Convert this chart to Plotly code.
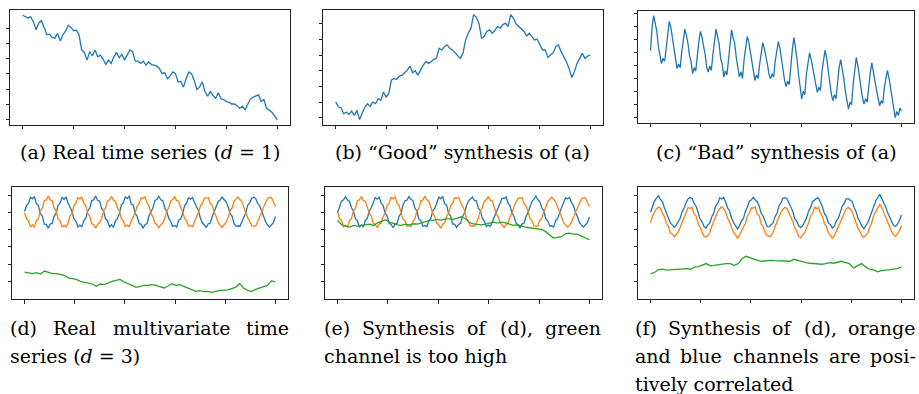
import numpy as np
import plotly.graph_objects as go

W, H = 919, 394

# ---------------- data (arbitrary units) ----------------
real_a = [6.87, 6.78, 6.69, 6.76, 6.42, 5.91, 6.36, 6.51, 6.07, 5.58, 5.62, 5.40, 5.36, 5.67, 5.18, 5.58,
          5.84, 6.20, 6.07, 5.84, 5.89, 5.58, 4.58, 4.42, 3.91, 4.47, 4.20, 4.58, 4.13, 4.24, 3.98, 3.62,
          3.91, 3.69, 4.13, 4.42, 4.07, 4.29, 3.91, 4.24, 4.58, 4.47, 3.84, 3.84, 3.69, 3.84, 3.58, 3.80,
          3.62, 3.58, 3.53, 3.36, 3.02, 3.09, 2.69, 2.87, 3.13, 3.02, 2.47, 2.51, 2.13, 2.69, 3.13, 3.02,
          2.58, 1.98, 2.13, 2.47, 1.84, 1.53, 1.84, 1.58, 1.40, 1.76, 1.36, 1.31, 1.18, 1.13, 1.02, 1.02,
          0.91, 0.73, 0.87, 0.64, 1.02, 1.36, 1.47, 1.53, 1.62, 1.18, 1.31, 0.73, 0.58, 0.47, 0.24, -0.02]

good_b = [47, 32, 30, 12, 17, 10, 20, 7, 22, -5, 14, 32, 42, 34, 47, 42, 57, 52, 77, 62, 72, 112, 117, 114,
          124, 127, 134, 142, 154, 134, 140, 127, 142, 157, 167, 162, 167, 174, 177, 207, 202, 212, 217, 207,
          202, 194, 187, 177, 192, 232, 252, 267, 307, 300, 282, 237, 242, 257, 262, 252, 260, 272, 267, 277,
          282, 272, 307, 297, 280, 272, 267, 257, 244, 252, 242, 232, 234, 217, 202, 202, 180, 187, 194, 212,
          217, 197, 184, 167, 147, 120, 137, 162, 177, 192, 177, 184, 187]

bad_c = [200, 270,
         304, 282, 258, 214, 190, 162, 178, 168, 205, 248,
         287, 270, 236, 218, 172, 147, 160, 150, 196, 232,
         264, 246, 222, 186, 168, 132, 150, 140, 190, 228,
         257, 240, 214, 190, 152, 137, 155, 142, 188, 236,
         264, 242, 220, 176, 160, 122, 140, 128, 180, 228,
         262, 238, 222, 180, 150, 122, 138, 118, 172, 214,
         242, 226, 198, 172, 140, 112, 128, 118, 160, 200,
         224, 206, 186, 160, 130, 117, 132, 122, 170, 206,
         227, 208, 170, 150, 112, 94, 110, 100, 158, 204,
         240, 210, 176, 128, 90, 57, 80, 70, 130, 170,
         194, 176, 150, 120, 96, 77, 92, 82, 140, 180,
         202, 178, 140, 110, 72, 52, 70, 58, 110, 150,
         174, 150, 118, 80, 50, 27, 48, 40, 100, 150,
         180, 156, 120, 92, 60, 42, 58, 48, 96, 136,
         164, 142, 110, 84, 54, 37, 52, 44, 90, 122,
         142, 120, 88, 60, 30, 2, 20, 8, 30, 22]

d_blue = [210, 228, 234, 253, 248, 255, 233, 228, 203, 196, 172, 171, 160, 172, 174, 196,
          205, 229, 235, 252, 246, 254, 236, 221, 211, 188, 181, 163, 169, 164, 182, 189,
          212, 220, 242, 245, 256, 243, 241, 219, 212, 187, 183, 164, 170, 162, 181, 188,
          204, 230, 236, 254, 249, 257, 232, 229, 205, 195, 173, 172, 160, 171, 173, 197,
          211, 221, 243, 246, 255, 245, 242, 220, 210, 189, 180, 165, 168, 163, 184, 187,
          203, 227, 235, 251, 247, 252, 237, 222, 213, 190, 176, 170, 161, 173, 175, 194,
          209, 226, 240, 244, 254, 246, 239, 225, 204, 197, 174, 166, 167, 165, 180, 190,
          206, 229, 236, 250, 253, 249, 234, 227, 209, 191, 179, 169, 163, 170, 177, 195]
d_orange = [206, 190, 182, 163, 170, 162, 183, 188, 213, 219, 243, 244, 256, 245, 242, 220,
            211, 187, 181, 164, 168, 163, 174, 196, 204, 228, 235, 252, 247, 253, 234, 227,
            203, 196, 173, 171, 160, 172, 176, 189, 211, 221, 241, 245, 255, 244, 240, 221,
            212, 188, 182, 165, 169, 165, 181, 194, 205, 227, 233, 251, 249, 254, 236, 226,
            204, 194, 175, 170, 161, 171, 175, 190, 210, 222, 242, 246, 254, 243, 241, 222,
            210, 189, 183, 166, 167, 164, 182, 193, 206, 226, 234, 250, 250, 252, 235, 228,
            207, 195, 176, 169, 162, 170, 177, 191, 212, 220, 240, 247, 253, 246, 239, 223,
            205, 190, 180, 167, 166, 166, 179, 195, 208, 225, 237, 249, 252, 251, 237, 225]
d_green = [28, 26, 23, 26, 22, 31, 26, 23, 23, 20, 18, 10, 8, 6, 0, -2, -4, -8, -15, -8, -10, -4, 0, 3,
           6, -2, -6, -12, -18, -14, -12, -12, -10, -12, -17, -20, -14, -7, -12, -10, -15, -20, -26, -30,
           -28, -31, -30, -33, -30, -27, -27, -26, -22, -18, -7, -20, -27, -31, -24, -20, -16, -12, 2, -2]

e_blue = [207, 227, 241, 245, 254, 244, 240, 221, 211, 188, 182, 163, 170, 163, 183, 189,
          212, 221, 235, 252, 247, 253, 234, 228, 204, 196, 174, 171, 161, 172, 174, 196,
          204, 229, 242, 244, 255, 246, 243, 219, 212, 187, 183, 165, 168, 164, 181, 188,
          211, 220, 234, 253, 248, 255, 233, 229, 203, 197, 172, 172, 162, 171, 175, 195,
          205, 228, 241, 246, 253, 243, 242, 220, 213, 189, 181, 164, 169, 165, 180, 190,
          210, 222, 236, 250, 249, 254, 235, 226, 205, 195, 175, 170, 160, 173, 174, 194,
          206, 227, 240, 247, 256, 245, 239, 221, 212, 188, 182, 166, 167, 163, 183, 189,
          209, 223, 237, 251, 248, 252, 236, 227, 206, 194, 176, 169, 163, 170, 176, 193]
e_orange = [211, 188, 183, 164, 169, 163, 182, 189, 212, 220, 242, 245, 255, 243, 241, 221,
            204, 196, 174, 171, 161, 172, 175, 195, 205, 228, 234, 252, 248, 254, 235, 228,
            210, 187, 182, 165, 168, 164, 181, 188, 211, 219, 243, 244, 256, 245, 240, 220,
            205, 195, 175, 170, 160, 171, 176, 196, 204, 227, 235, 251, 249, 253, 236, 227,
            212, 189, 181, 166, 167, 165, 180, 190, 213, 221, 241, 246, 254, 244, 242, 222,
            203, 194, 176, 169, 162, 170, 177, 194, 206, 226, 236, 250, 250, 252, 234, 226,
            211, 188, 182, 167, 166, 166, 183, 189, 210, 222, 240, 247, 253, 246, 239, 223,
            206, 193, 177, 168, 163, 169, 178, 193, 207, 225, 237, 249, 251, 251, 237, 225]
e_green = [183, 170, 166, 163, 168, 166, 168, 170, 172, 168, 176, 180, 185, 178, 173, 170, 168, 172, 170, 173,
           172, 176, 178, 183, 183, 186, 184, 188, 188, 186, 190, 194, 188, 176, 173, 172, 170, 172, 176, 178,
           175, 178, 176, 172, 168, 170, 166, 163, 161, 160, 158, 156, 150, 140, 130, 132, 134, 143, 145, 142,
           142, 136, 131, 125]

f_blue = [208, 226, 242, 251, 258, 247, 240, 222, 206, 194, 176, 170, 163, 169, 180, 190,
          210, 221, 237, 249, 252, 250, 236, 227, 209, 189, 180, 166, 160, 170, 175, 195,
          205, 228, 234, 252, 248, 253, 239, 221, 212, 190, 177, 168, 158, 167, 182, 189,
          211, 223, 241, 245, 253, 246, 240, 226, 205, 196, 179, 165, 164, 171, 176, 194,
          206, 227, 236, 250, 252, 249, 235, 222, 211, 188, 181, 167, 162, 168, 179, 191,
          212, 222, 240, 246, 250, 251, 237, 225, 204, 195, 175, 171, 160, 166, 181, 190,
          207, 226, 235, 248, 249, 245, 241, 223, 210, 191, 178, 166, 158, 169, 177, 193,
          209, 230, 243, 252, 262, 250, 239, 224, 207, 192, 180, 168, 165, 172, 184, 200]
f_orange = [176, 198, 208, 219, 224, 221, 206, 195, 174, 166, 146, 142, 134, 140, 148, 163,
            177, 194, 206, 222, 220, 223, 204, 198, 176, 160, 150, 136, 133, 137, 146, 165,
            180, 192, 210, 218, 225, 219, 209, 190, 179, 162, 148, 140, 129, 139, 150, 160,
            175, 197, 205, 221, 221, 224, 203, 197, 173, 166, 145, 138, 135, 136, 147, 164,
            181, 193, 209, 217, 223, 220, 208, 191, 180, 161, 151, 135, 131, 141, 145, 162,
            176, 198, 204, 223, 219, 222, 205, 196, 174, 165, 146, 139, 130, 137, 151, 161,
            179, 191, 207, 218, 222, 218, 210, 192, 178, 160, 149, 137, 132, 140, 146, 163,
            177, 199, 211, 221, 232, 223, 207, 195, 176, 164, 150, 140, 136, 142, 152, 168]
f_green = [23, 26, 35, 36, 33, 34, 34, 36, 35, 38, 36, 42, 44, 48, 53, 46, 48, 50, 50, 53, 53, 48, 53, 68,
           75, 70, 66, 62, 60, 62, 63, 62, 62, 60, 60, 60, 66, 62, 58, 56, 54, 53, 50, 51, 53, 56, 54, 58,
           60, 56, 52, 40, 46, 53, 43, 36, 34, 28, 32, 33, 36, 35, 38, 43]

x_ticks = [0, 200, 400, 600, 800, 1000]
T_END = 1000

BLUE, ORANGE, GREEN = "#1f77b4", "#ff7f0e", "#2ca02c"

# ---------------- layout geometry (pixels) ----------------
panels = [
    dict(series=[(real_a, BLUE)], xd=(10, 290), yd=(10, 125),
         yt=[0, 1, 2, 3, 4, 5, 6], yr=None),
    dict(series=[(good_b, BLUE)], xd=(323, 603), yd=(9.5, 124.7),
         yt=[46.7 * k for k in range(7)], yr=None),
    dict(series=[(bad_c, BLUE)], xd=(638, 914), yd=(10.5, 122.7),
         yt=[2 + 38.5 * k for k in range(9)], yr=None),
    dict(series=[(d_blue, BLUE), (d_orange, ORANGE), (d_green, GREEN)], xd=(12, 288), yd=(186.5, 299.3),
         yt=[51.6 * k for k in range(6)], yr=[-54, 285]),
    dict(series=[(e_blue, BLUE), (e_orange, ORANGE), (e_green, GREEN)], xd=(325, 602), yd=(186.5, 299.3),
         yt=[51.6 * k for k in range(6)], yr=[-54, 285]),
    dict(series=[(f_blue, BLUE), (f_orange, ORANGE), (f_green, GREEN)], xd=(638, 914), yd=(186.8, 299),
         yt=[51.6 * k for k in range(6)], yr=[-54, 285]),
]

fig = go.Figure()
layout = {}
for i, p in enumerate(panels, start=1):
    xa = "x" if i == 1 else f"x{i}"
    ya = "y" if i == 1 else f"y{i}"
    allv = []
    for vals, col in p["series"]:
        xs = np.linspace(0, T_END, len(vals))
        fig.add_trace(go.Scatter(x=xs, y=vals, mode="lines", xaxis=xa, yaxis=ya,
                                 line=dict(color=col, width=1.3), showlegend=False,
                                 hoverinfo="skip"))
        allv += list(vals)
    if p["yr"] is None:
        lo, hi = min(allv), max(allv)
        pad = 0.05 * (hi - lo)
        yr = [lo - pad, hi + pad]
    else:
        yr = p["yr"]
    common = dict(showline=True, mirror=True, linecolor="#222222", linewidth=0.9,
                  ticks="outside", ticklen=3.5, tickwidth=0.8, tickcolor="#222222",
                  showticklabels=False, showgrid=False, zeroline=False, fixedrange=True)
    layout["xaxis" if i == 1 else f"xaxis{i}"] = dict(
        domain=[p["xd"][0] / W, p["xd"][1] / W], anchor=ya,
        range=[-0.05 * T_END, 1.05 * T_END], tickmode="array", tickvals=x_ticks, **common)
    layout["yaxis" if i == 1 else f"yaxis{i}"] = dict(
        domain=[1 - p["yd"][1] / H, 1 - p["yd"][0] / H], anchor=xa,
        range=yr, tickmode="array", tickvals=p["yt"], **common)

fig.update_layout(width=W, height=H, margin=dict(l=0, r=0, t=0, b=0),
                  paper_bgcolor="white", plot_bgcolor="white", **layout)

FONT = dict(family="'DejaVu Serif', 'Liberation Serif', serif", size=19, color="black")


def txt(s, x, y, anchor="left"):
    fig.add_annotation(text=s, x=x / W, y=1 - y / H, xref="paper", yref="paper",
                       xanchor=anchor, yanchor="middle", showarrow=False, font=FONT,
                       borderpad=0)


TOP_Y = 152
txt("(a) Real time series (<i>d</i> = 1)", 150, TOP_Y, "center")
txt("(b) “Good” synthesis of (a)", 462, TOP_Y, "center")
txt("(c) “Bad” synthesis of (a)", 776, TOP_Y, "center")

L1, L2, L3 = 327.5, 355.5, 383.5
# (d) justified first line
txt("(d)", 9, L1)
txt("Real", 74, L1, "center")
txt("multivariate", 171, L1, "center")
txt("time", 289.5, L1, "right")
txt("series (<i>d</i> = 3)", 9, L2)
# (e)
txt("(e)", 323, L1)
txt("Synthesis", 408.5, L1, "center")
txt("of", 477, L1, "center")
txt("(d),", 516.5, L1, "center")
txt("green", 602, L1, "right")
txt("channel is too high", 323, L2)
# (f)
txt("(f)", 634, L1)
txt("Synthesis", 714, L1, "center")
txt("of", 782, L1, "center")
txt("(d),", 820.5, L1, "center")
txt("orange", 917, L1, "right")
txt("and", 634, L2)
txt("blue", 701, L2, "center")
txt("channels", 775.5, L2, "center")
txt("are", 844.5, L2, "center")
txt("posi-", 917, L2, "right")
txt("tively correlated", 634, L3)

fig.write_html("out.html")
